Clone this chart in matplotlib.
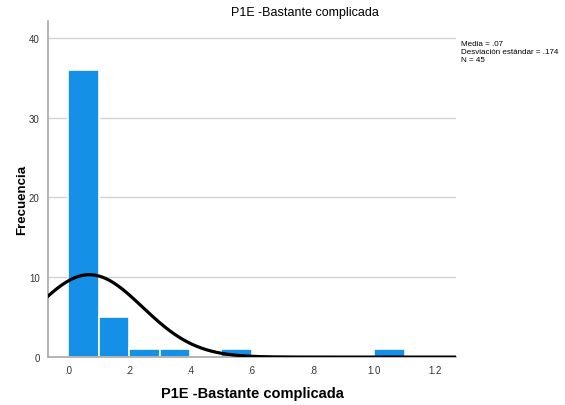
import numpy as np
import matplotlib.pyplot as plt

plt.rcParams['font.family'] = ['Liberation Sans', 'DejaVu Sans']

# histogram data (bin edges and counts)
bin_left = [0.0, 0.1, 0.2, 0.3, 0.4, 0.5, 0.6, 0.7, 0.8, 0.9, 1.0]
counts = [36, 5, 1, 1, 0, 1, 0, 0, 0, 0, 1]
bin_width = 0.1
mean = 0.07
std = 0.174
n = 45

xticks = [0.0, 0.2, 0.4, 0.6, 0.8, 1.0, 1.2]
xtick_labels = ['.0', '.2', '.4', '.6', '.8', '1.0', '1.2']
yticks = [0, 10, 20, 30, 40]

fig = plt.figure(figsize=(5.65, 4.06), dpi=100)
ax = fig.add_axes([0.085, 0.118, 0.722, 0.828])

ax.bar(bin_left, counts, width=bin_width, align='edge', color='#1490E6',
       edgecolor='white', linewidth=1.2, zorder=2)

# normal curve from the reported mean / sd
xs = np.linspace(-0.065, 1.268, 400)
ys = n * bin_width * np.exp(-0.5 * ((xs - mean) / std) ** 2) / (std * np.sqrt(2 * np.pi))
ax.plot(xs, ys, color='black', linewidth=2.3, zorder=3)

ax.set_xlim(-0.065, 1.268)
ax.set_ylim(0, 42.1)
ax.set_xticks(xticks)
ax.set_xticklabels(xtick_labels)
ax.set_yticks(yticks)
ax.tick_params(length=0, labelsize=7, colors='#333333', pad=6)
ax.yaxis.grid(True, color='#D3D3D3', linewidth=1, zorder=0)
ax.set_axisbelow(True)
for s in ['top', 'right']:
    ax.spines[s].set_visible(False)
for s in ['left', 'bottom']:
    ax.spines[s].set_color('#A8A8A8')
    ax.spines[s].set_linewidth(1.2)

# axis labels placed by hand (SPSS-like layout)
fig.text(252 / 565, 1 - 394 / 406, 'P1E -Bastante complicada', fontsize=10.5,
         fontweight='bold', ha='center', va='center')
fig.text(22 / 565, 1 - 200 / 406, 'Frecuencia', fontsize=9.5, fontweight='bold',
         rotation=90, ha='center', va='center')
fig.text(305 / 565, 1 - 13 / 406, 'P1E -Bastante complicada', fontsize=9,
         ha='center', va='center')

fig.text(461 / 565, 1 - 41 / 406,
         'Media = .07\nDesviación estándar = .174\nN = 45',
         fontsize=5.8, va='top', ha='left', linespacing=1.25)

fig.savefig('out.png', dpi=100)
